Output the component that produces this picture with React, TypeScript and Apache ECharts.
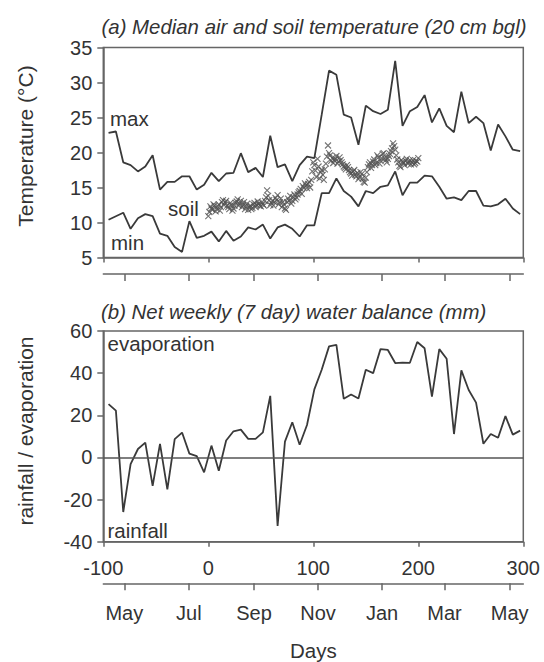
import React, { useEffect, useRef } from "react";
import * as echarts from "echarts";

// ---- data ----
const weekDays = [
  -95, -88, -81, -74, -67, -60, -53, -46, -39, -32, -25, -18, -11, -4, 3, 10, 17, 24, 31, 38,
  45, 52, 59, 66, 73, 80, 87, 94, 101, 108, 115, 122, 129, 136, 143, 150, 157, 164, 171, 178,
  185, 192, 199, 206, 213, 220, 227, 234, 241, 248, 255, 262, 269, 276, 283, 290, 297,
];

const airMax = [
  22.8, 23.0, 18.6, 18.2, 17.3, 18.0, 19.6, 14.7, 15.8, 15.8,
  16.6, 16.6, 14.7, 15.4, 17.1, 15.9, 17.0, 17.1, 19.9, 17.2,
  17.8, 16.5, 22.4, 17.9, 18.3, 15.9, 18.2, 19.4, 19.2, 25.4,
  31.7, 31.1, 25.4, 25.0, 21.1, 26.7, 25.9, 25.5, 26.1, 33.1,
  23.8, 25.9, 26.5, 28.2, 24.3, 26.3, 23.8, 22.9, 28.7, 24.2,
  25.1, 24.2, 20.3, 24.0, 22.3, 20.4, 20.2,
];

const airMin = [
  10.4, 10.9, 11.4, 9.1, 10.6, 11.2, 10.9, 8.4, 8.1, 6.5,
  5.8, 10.2, 7.8, 8.1, 8.7, 7.3, 8.8, 7.4, 8.0, 9.3,
  9.0, 9.7, 7.7, 9.3, 9.7, 9.1, 8.0, 9.6, 9.6, 14.2,
  14.2, 16.3, 14.5, 13.7, 12.3, 14.5, 14.2, 15.1, 15.3, 17.3,
  13.9, 15.7, 15.7, 16.7, 16.6, 15.1, 13.4, 13.6, 13.2, 14.5,
  14.5, 12.4, 12.3, 12.6, 13.4, 12.0, 11.2,
];

const waterBalance = [
  25.3, 22.2, -25.9, -3.2, 4.0, 7.0, -13.5, 6.4, -15.2, 8.7,
  11.8, 1.8, 0.6, -7.1, 5.6, -6.3, 8.0, 12.4, 13.2, 8.8,
  8.8, 11.9, 29.2, -32.5, 7.5, 16.7, 6.0, 15.4, 32.3, 41.6,
  52.7, 53.4, 27.8, 29.9, 28.0, 41.6, 40.0, 51.4, 51.0, 44.8,
  45.0, 44.9, 54.8, 51.8, 28.9, 51.4, 46.8, 11.1, 41.3, 32.0,
  26.0, 6.5, 11.1, 9.3, 19.6, 10.8, 12.7,
];

// soil temperature at 20 cm, days 0,2,4,...,200
const soilEvenDays = [
  10.9, 12.3, 11.8, 12.4, 11.9, 12.6, 12.2, 13.2, 12.9, 12.4,
  11.9, 12.5, 12.0, 12.8, 13.3, 12.7, 12.2, 12.9, 12.3, 11.8,
  12.4, 12.1, 12.8, 12.5, 12.7, 12.3, 12.6, 13.1, 14.6, 13.2,
  12.8, 12.4, 13.5, 13.9, 12.9, 12.2, 12.6, 11.8, 13.4, 13.8,
  13.1, 14.0, 13.6, 14.3, 14.8, 15.2, 15.6, 14.9, 15.8, 16.1,
  18.6, 17.4, 19.1, 16.3, 17.5, 16.1, 18.4, 21.0, 19.6, 19.2,
  18.9, 19.5, 18.7, 18.9, 18.3, 17.8, 18.2, 17.5, 17.0, 17.3,
  16.8, 17.1, 16.5, 16.9, 15.8, 16.4, 17.9, 18.6, 18.2, 19.0,
  18.5, 19.3, 18.8, 19.8, 19.2, 18.6, 19.5, 20.2, 21.3, 20.4,
  19.0, 18.1, 18.9, 18.5, 18.8, 18.4, 18.9, 18.6, 18.3, 18.8,
  19.2,
];
// soil temperature at 20 cm, days 1,3,5,...,199
const soilOddDays = [
  11.5, 12.0, 12.6, 11.6, 12.3, 11.7, 12.9, 12.5, 13.1, 12.2,
  12.8, 11.7, 12.4, 13.0, 12.4, 13.1, 12.5, 11.9, 12.7, 12.2,
  11.9, 12.6, 12.2, 13.0, 12.4, 12.9, 12.4, 13.6, 13.8, 12.5,
  13.1, 12.9, 13.2, 12.6, 13.4, 12.9, 12.0, 12.9, 13.1, 12.7,
  13.6, 13.3, 14.0, 14.5, 14.1, 14.9, 15.3, 15.5, 15.0, 17.3,
  18.2, 16.5, 18.0, 17.2, 16.8, 17.6, 19.4, 19.9, 18.8, 18.5,
  19.1, 18.4, 19.3, 18.6, 18.0, 17.6, 17.9, 17.2, 16.7, 17.5,
  16.6, 16.2, 17.2, 16.3, 15.7, 17.2, 18.3, 17.8, 18.7, 18.2,
  19.6, 18.4, 19.2, 19.9, 18.9, 19.1, 19.8, 20.6, 20.9, 19.6,
  18.6, 17.9, 18.7, 18.2, 19.1, 18.6, 18.3, 18.9, 18.5, 18.7,
];

const monthTickDays = [-80, -18.5, 43.5, 104.5, 165.5, 225, 287];
const monthLabels = ["May", "Jul", "Sep", "Nov", "Jan", "Mar", "May"];

const titleA = "(a) Median air and soil temperature (20 cm bgl)";
const titleB = "(b) Net weekly (7 day) water balance (mm)";

const FONT = "'Liberation Sans', Arial, Helvetica, sans-serif";
const INK = "#333333";
const AXIS = "#666666";
const LINE = "#3a3a3a";

export default function App() {
  const ref = useRef<HTMLDivElement>(null);

  useEffect(() => {
    if (!ref.current) return;
    const chart = echarts.init(ref.current, null, { renderer: "svg" });

    const L = 103.3;
    const W = 420;

    const maxData = weekDays.map((d, i) => [d, airMax[i]]);
    const minData = weekDays.map((d, i) => [d, airMin[i]]);
    const waterData = weekDays.map((d, i) => [d, waterBalance[i]]);
    const soilData: number[][] = [];
    soilEvenDays.forEach((v, i) => soilData.push([i * 2, v]));
    soilOddDays.forEach((v, i) => soilData.push([i * 2 + 1, v]));

    const axisLine = { show: true, onZero: false, lineStyle: { color: AXIS, width: 1.5 } };
    const tickStyle = { color: AXIS, width: 1.5 };
    const labelStyle = { color: INK, fontSize: 20, fontFamily: FONT };

    const txt = (text: string, x: number, y: number, extra: any = {}) => ({
      type: "text",
      x,
      y,
      rotation: extra.rotation || 0,
      silent: true,
      style: {
        text,
        fill: INK,
        fontFamily: FONT,
        fontSize: extra.fontSize || 20.5,
        fontStyle: extra.fontStyle || "normal",
        align: extra.align || "left",
        verticalAlign: "middle",
      },
    });

    chart.setOption({
      animation: false,
      backgroundColor: "#ffffff",
      grid: [
        { left: L, top: 47.5, width: W, height: 210, show: true, borderColor: AXIS, borderWidth: 1.5 },
        { left: L, top: 273, width: W, height: 1, show: false },
        { left: L, top: 331, width: W, height: 210.7, show: true, borderColor: AXIS, borderWidth: 1.5 },
        { left: L, top: 582.3, width: W, height: 1, show: false },
      ],
      xAxis: [
        {
          gridIndex: 0, type: "value", min: -100, max: 300, interval: 100,
          axisLine, axisTick: { show: true, length: 5, lineStyle: tickStyle },
          axisLabel: { show: false }, splitLine: { show: false },
        },
        {
          gridIndex: 1, type: "value", min: -100, max: 300,
          axisLine,
          axisTick: { show: true, length: 7, customValues: monthTickDays, lineStyle: tickStyle },
          axisLabel: { show: false }, splitLine: { show: false },
        },
        {
          gridIndex: 2, type: "value", min: -100, max: 300, interval: 100,
          axisLine, axisTick: { show: true, length: 5, lineStyle: tickStyle },
          axisLabel: { ...labelStyle, margin: 16 }, splitLine: { show: false },
        },
        {
          gridIndex: 3, type: "value", min: -100, max: 300,
          axisLine,
          axisTick: { show: true, length: 7, customValues: monthTickDays, lineStyle: tickStyle },
          axisLabel: {
            ...labelStyle,
            margin: 20,
            customValues: monthTickDays,
            formatter: (v: number) => {
              const k = monthTickDays.indexOf(v);
              return k >= 0 ? monthLabels[k] : "";
            },
          },
          splitLine: { show: false },
        },
      ],
      yAxis: [
        {
          gridIndex: 0, type: "value", min: 5, max: 35, interval: 5,
          axisLine, axisTick: { show: true, length: 6, lineStyle: tickStyle },
          axisLabel: { ...labelStyle, margin: 11 }, splitLine: { show: false },
        },
        { gridIndex: 1, type: "value", show: false, min: 0, max: 1 },
        {
          gridIndex: 2, type: "value", min: -40, max: 60, interval: 20,
          axisLine, axisTick: { show: true, length: 6, lineStyle: tickStyle },
          axisLabel: { ...labelStyle, margin: 11 }, splitLine: { show: false },
        },
        { gridIndex: 3, type: "value", show: false, min: 0, max: 1 },
      ],
      series: [
        {
          name: "soil",
          type: "scatter",
          xAxisIndex: 0, yAxisIndex: 0,
          data: soilData,
          symbol: "path://M0,0L10,10M10,0L0,10",
          symbolSize: 6,
          itemStyle: { color: "rgba(0,0,0,0)", borderColor: "#505050", borderWidth: 1.1 },
          silent: true,
          z: 1,
        },
        {
          name: "max",
          type: "line",
          xAxisIndex: 0, yAxisIndex: 0,
          data: maxData,
          showSymbol: false, symbol: "none",
          lineStyle: { color: LINE, width: 1.8 },
          z: 2,
        },
        {
          name: "min",
          type: "line",
          xAxisIndex: 0, yAxisIndex: 0,
          data: minData,
          showSymbol: false, symbol: "none",
          lineStyle: { color: LINE, width: 1.8 },
          z: 2,
        },
        {
          name: "water balance",
          type: "line",
          xAxisIndex: 2, yAxisIndex: 2,
          data: waterData,
          showSymbol: false, symbol: "none",
          lineStyle: { color: LINE, width: 1.8 },
          markLine: {
            silent: true,
            symbol: "none",
            label: { show: false },
            lineStyle: { type: "solid", color: "#555555", width: 1.6 },
            data: [{ yAxis: 0 }],
          },
          z: 2,
        },
      ],
      graphic: [
        txt(titleA, 101.5, 27, { fontStyle: "italic", fontSize: 20.4 }),
        txt(titleB, 101, 312, { fontStyle: "italic", fontSize: 20.4 }),
        txt("max", 110, 118),
        txt("min", 111, 242),
        txt("soil", 168, 208),
        txt("evaporation", 107.5, 343),
        txt("rainfall", 107.5, 530),
        txt("Temperature (°C)", 25.4, 146, { align: "center", rotation: Math.PI / 2, fontSize: 21 }),
        txt("rainfall / evaporation", 25.4, 431, { align: "center", rotation: Math.PI / 2, fontSize: 21 }),
        txt("Days", 313.3, 650, { align: "center" }),
      ],
    });

    return () => chart.dispose();
  }, []);

  return (
    <div
      ref={ref}
      style={{ position: "fixed", left: 0, top: 0, width: 544, height: 662, background: "#fff" }}
    />
  );
}
